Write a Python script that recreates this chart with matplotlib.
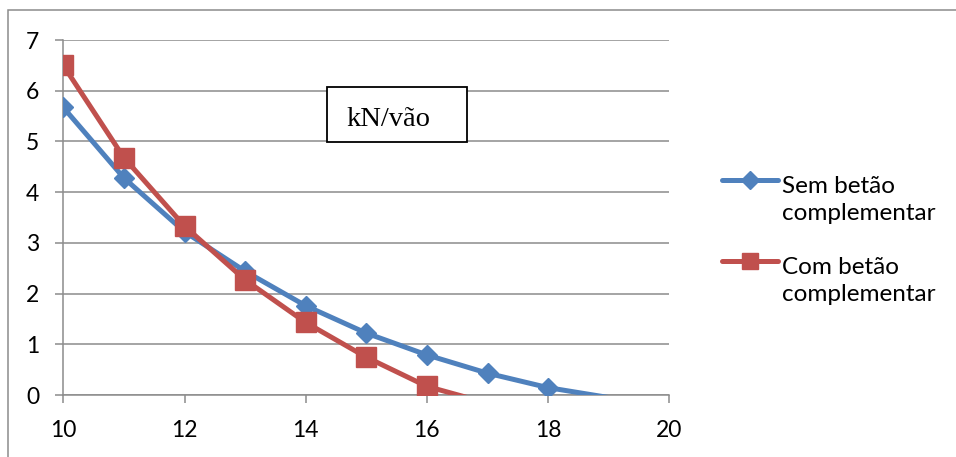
import matplotlib
matplotlib.use("Agg")
import matplotlib.pyplot as plt
from matplotlib.patches import Rectangle
from matplotlib.lines import Line2D

# Span (m) and load values for both slab variants
vao_sem = [10, 11, 12, 13, 14, 15, 16, 17, 18, 19]
carga_sem = [5.67, 4.28, 3.22, 2.44, 1.76, 1.22, 0.79, 0.43, 0.145, -0.05]

vao_com = [10, 11, 12, 13, 14, 15, 16, 17]
carga_com = [6.50, 4.68, 3.33, 2.27, 1.43, 0.745, 0.17, -0.16]

serie_labels = ["Sem betão\ncomplementar", "Com betão\ncomplementar"]
x_ticks = [10, 12, 14, 16, 18, 20]
y_ticks = [0, 1, 2, 3, 4, 5, 6, 7]
unit_label = "kN/vão"

BLUE = "#4F81BD"
RED = "#C0504D"
GRID = "#8C8C8C"
W, H = 956, 457

plt.rcParams["font.family"] = ["Lato", "DejaVu Sans"]

fig = plt.figure(figsize=(W / 100, H / 100), dpi=100)
ax = fig.add_axes([63.3 / W, 1 - 395 / H, 606 / W, 355 / H])

def visible(vals):
    return [i for i, v in enumerate(vals) if v >= 0]

styles = [
    dict(color=BLUE, marker="D", ms=10.2, zorder=3),
    dict(color=RED, marker="s", ms=14, zorder=4),
]
series = [(vao_sem, carga_sem), (vao_com, carga_com)]

for (xs, ys), st in zip(series, styles):
    ax.plot(xs, ys, lw=3.6, markevery=visible(ys), solid_joinstyle="round", **st)

ax.set_xlim(10, 20)
ax.set_ylim(0, 7)
ax.set_xticks(x_ticks)
ax.set_yticks(y_ticks)
ax.yaxis.grid(True, color=GRID, lw=1.1)
ax.set_axisbelow(True)

for s in ("top", "right"):
    ax.spines[s].set_visible(False)
for s in ("left", "bottom"):
    ax.spines[s].set_color(GRID)
    ax.spines[s].set_linewidth(1.1)

ax.tick_params(axis="both", direction="out", length=5.8, width=1.1,
               color=GRID, labelsize=16.5, labelcolor="black")
ax.tick_params(axis="y", pad=11.5)
ax.tick_params(axis="x", pad=12.5)

# Unit label box
ax.add_patch(Rectangle((0.4347, 0.7135), 0.232, 0.1532, transform=ax.transAxes,
                       facecolor="white", edgecolor="black", lw=1.3, zorder=5))
ax.text(0.4677, 0.759, unit_label, transform=ax.transAxes, ha="left",
        va="baseline", fontsize=20.5, family="Liberation Serif", zorder=6)

# Legend: handle aligned with the first line of each two-line label
legend_rows = [180, 260.7]
for label, st, yrow in zip(serie_labels, styles, legend_rows):
    yf = 1 - yrow / H
    fig.add_artist(Line2D([722 / W, 778 / W], [yf, yf], transform=fig.transFigure,
                          color=st["color"], lw=3.6, solid_capstyle="round"))
    fig.add_artist(Line2D([750 / W], [yf], transform=fig.transFigure,
                          color=st["color"], marker=st["marker"], ms=st["ms"] * 0.85,
                          lw=0))
    # baseline of the second (last) line of the label
    fig.text(781.7 / W, 1 - (yrow + 40) / H, label, ha="left", va="baseline",
             fontsize=17.5, linespacing=1.36)

# Outer chart frame
fig.add_artist(Rectangle((8 / W, -0.2), 1.2, 1.2 - 10 / H,
                         transform=fig.transFigure, facecolor="none",
                         edgecolor=GRID, lw=1.1, clip_on=False))

fig.savefig("out.png", dpi=100)
